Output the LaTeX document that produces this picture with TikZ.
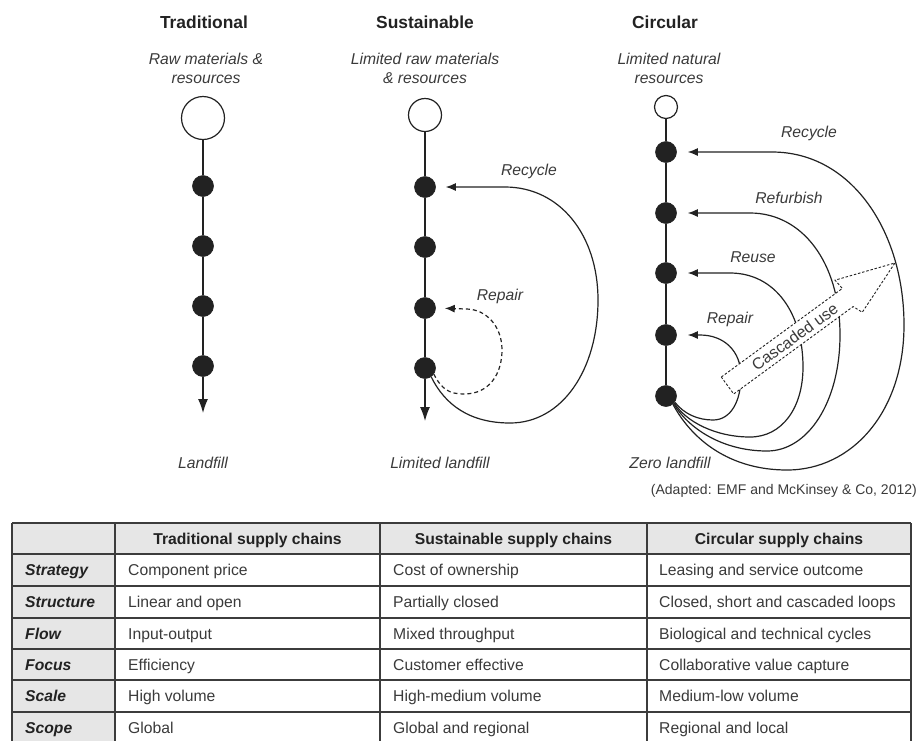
\documentclass[tikz,border=0pt]{standalone}
\usepackage{fontspec}
\setmainfont{Liberation Sans}
\usetikzlibrary{arrows.meta}
\definecolor{ink}{HTML}{222222}
\definecolor{txt}{HTML}{3A3A3A}
\definecolor{hdr}{HTML}{E6E6E6}
\definecolor{grid}{HTML}{3C3C3C}
\newcommand\flab{\fontsize{15.7}{19}\selectfont}
\newcommand\ftit{\fontsize{17.4}{21}\selectfont}
\newcommand\fsrc{\fontsize{14}{17}\selectfont}
\newcommand\fcas{\fontsize{16}{19}\selectfont}
\begin{document}
\begin{tikzpicture}[x=1pt,y=-1pt,
  lnk/.style={draw=ink, line width=1.2pt},
  blackdot/.style={circle, fill=ink, draw=ink, line width=0.6pt, minimum size=21pt, inner sep=0pt},
  opendot/.style={circle, draw=ink, fill=white, line width=1.2pt, inner sep=0pt},
  lab/.style={text=txt, font=\flab\itshape, align=center, inner sep=0pt},
  ttl/.style={text=ink, font=\ftit\bfseries, inner sep=0pt},
  retarrow/.style={lnk, -{Latex[length=10pt,width=8pt]}},
  downarrow/.style={lnk, -{Latex[length=14pt,width=10pt]}},
  dashloop/.style={retarrow, dash pattern=on 4pt off 3pt},
  cascade/.style={draw=ink, fill=white, line width=0.9pt, dash pattern=on 2.5pt off 1.8pt},
  gridline/.style={draw=grid, line width=1.3pt},
  hcell/.style={text=ink, font=\flab\bfseries, anchor=base, inner sep=0pt},
  rcell/.style={text=ink, font=\flab\bfseries\itshape, anchor=base west, inner sep=0pt},
  cell/.style={text=txt, font=\flab, anchor=base west, inner sep=0pt}]
\useasboundingbox (0,0) rectangle (919,740);
\clip (0,0) rectangle (919,740);

% ---------- titles and source labels ----------
\node[ttl] (tt) at (204,22) {Traditional};
\node[ttl] (st) at (425,22) {Sustainable};
\node[ttl] (ct) at (665,22) {Circular};
\node[lab] (tr) at (206,68) {Raw materials \&\\resources};
\node[lab] (sr) at (425,68) {Limited raw materials\\\& resources};
\node[lab] (cr) at (669,68) {Limited natural\\resources};

% ---------- traditional ----------
\node[opendot, minimum size=43pt] (t0) at (203,118) {};
\node[blackdot] (t1) at (203,186) {};
\node[blackdot] (t2) at (203,246) {};
\node[blackdot] (t3) at (203,306) {};
\node[blackdot] (t4) at (203,366) {};
\coordinate (tend) at (203,413);
\draw[lnk] (t0) -- (t1) -- (t2) -- (t3) -- (t4);
\draw[downarrow] (t4) -- (tend);
\node[lab] (tl) at (203,463) {Landfill};

% ---------- sustainable ----------
\node[opendot, minimum size=33pt] (s0) at (425,115) {};
\node[blackdot] (s1) at (425,187) {};
\node[blackdot] (s2) at (425,247) {};
\node[blackdot] (s3) at (425,308) {};
\node[blackdot] (s4) at (425,368) {};
\coordinate (send) at (425,421);
\draw[lnk] (s0) -- (s1) -- (s2) -- (s3) -- (s4);
\draw[downarrow] (s4) -- (send);
\draw[retarrow, shorten >=10pt] (s4.-55) .. controls (445,405) and (470,423) .. (510,423)
  .. controls (562,423) and (598,370) .. (598,300)
  .. controls (598,235) and (560,187) .. (505,187) -- (s1.east);
\draw[dashloop, shorten >=9pt] (s4.-35) .. controls (442,390) and (450,394) .. (464,394)
  .. controls (490,394) and (502,373) .. (502,350)
  .. controls (502,326) and (486,309) .. (466,309) -- (s3.east);
\node[lab] (srec) at (529,171) {Recycle};
\node[lab] (srep) at (500,296) {Repair};
\node[lab] (sl) at (440,463) {Limited landfill};

% ---------- circular ----------
\node[opendot, minimum size=23pt] (c0) at (666,107) {};
\node[blackdot] (c1) at (666,152) {};
\node[blackdot] (c2) at (666,213) {};
\node[blackdot] (c3) at (666,273) {};
\node[blackdot] (c4) at (666,335) {};
\node[blackdot] (c5) at (666,396) {};
\draw[lnk] (c0) -- (c1) -- (c2) -- (c3) -- (c4) -- (c5);
% recycle
\draw[retarrow, shorten >=11pt] (c5.-50) .. controls (692,440) and (730,470) .. (787,470)
  .. controls (852,470) and (904,412) .. (904,325)
  .. controls (904,232) and (852,152) .. (772,152) -- (c1.east);
% refurbish
\draw[retarrow, shorten >=11pt] (c5.-45) .. controls (688,428) and (722,451) .. (767,451)
  .. controls (808,451) and (840,402) .. (840,335)
  .. controls (840,262) and (802,213) .. (750,213) -- (c2.east);
% reuse
\draw[retarrow, shorten >=11pt] (c5.-40) .. controls (686,422) and (716,437) .. (750,437)
  .. controls (782,437) and (803,408) .. (803,367)
  .. controls (803,313) and (775,273) .. (730,273) -- (c3.east);
% repair
\draw[retarrow, shorten >=11pt] (c5.-35) .. controls (684,414) and (698,420) .. (713,420)
  .. controls (731,420) and (741,401) .. (741,376)
  .. controls (741,351) and (724,335) .. (700,335) -- (c4.east);
\node[lab] (crec) at (809,133) {Recycle};
\node[lab] (cref) at (789,198) {Refurbish};
\node[lab] (creu) at (753,257) {Reuse};
\node[lab] (crep) at (730,319) {Repair};
\node[lab] (cl) at (670,463) {Zero landfill};

% cascaded use arrow
\begin{scope}[shift={(727.5,385.5)}, rotate=36.2]
  \draw[cascade] (0,-10.5) -- (150,-10.5) -- (149,-21.5) -- (207.5,0) -- (152,20.5) -- (148,10.5) -- (0,10.5) -- cycle;
  \node[text=txt, font=\fcas, rotate=36.2, inner sep=0pt] (casc) at (83,0.5) {Cascaded use};
\end{scope}

\node[anchor=east, font=\fsrc, text=txt, inner sep=0pt] (src) at (917,491) {(Adapted: EMF and McKinsey \& Co, 2012)};

% ---------- table ----------
\fill[hdr] (12,523) rectangle (911,554);
\fill[hdr] (12,554) rectangle (115,745);
\foreach \yy in {523,554,586,618,649,680,712,743} \draw[gridline] (12,\yy) -- (911,\yy);
\foreach \xx in {12,115,380,647,911} \draw[gridline] (\xx,523) -- (\xx,745);

\node[hcell] (h1) at (247.5,544) {Traditional supply chains};
\node[hcell] (h2) at (513.5,544) {Sustainable supply chains};
\node[hcell] (h3) at (779,544) {Circular supply chains};

\node[rcell] (r1) at (25,575.6) {Strategy};
\node[rcell] (r2) at (25,607.6) {Structure};
\node[rcell] (r3) at (25,639.1) {Flow};
\node[rcell] (r4) at (25,670.1) {Focus};
\node[rcell] (r5) at (25,701.6) {Scale};
\node[rcell] (r6) at (25,733.1) {Scope};

\node[cell] (a1) at (128,575.6) {Component price};
\node[cell] (a2) at (128,607.6) {Linear and open};
\node[cell] (a3) at (128,639.1) {Input-output};
\node[cell] (a4) at (128,670.1) {Efficiency};
\node[cell] (a5) at (128,701.6) {High volume};
\node[cell] (a6) at (128,733.1) {Global};

\node[cell] (b1) at (393,575.6) {Cost of ownership};
\node[cell] (b2) at (393,607.6) {Partially closed};
\node[cell] (b3) at (393,639.1) {Mixed throughput};
\node[cell] (b4) at (393,670.1) {Customer effective};
\node[cell] (b5) at (393,701.6) {High-medium volume};
\node[cell] (b6) at (393,733.1) {Global and regional};

\node[cell] (d1) at (659,575.6) {Leasing and service outcome};
\node[cell] (d2) at (659,607.6) {Closed, short and cascaded loops};
\node[cell] (d3) at (659,639.1) {Biological and technical cycles};
\node[cell] (d4) at (659,670.1) {Collaborative value capture};
\node[cell] (d5) at (659,701.6) {Medium-low volume};
\node[cell] (d6) at (659,733.1) {Regional and local};
\end{tikzpicture}
\end{document}
